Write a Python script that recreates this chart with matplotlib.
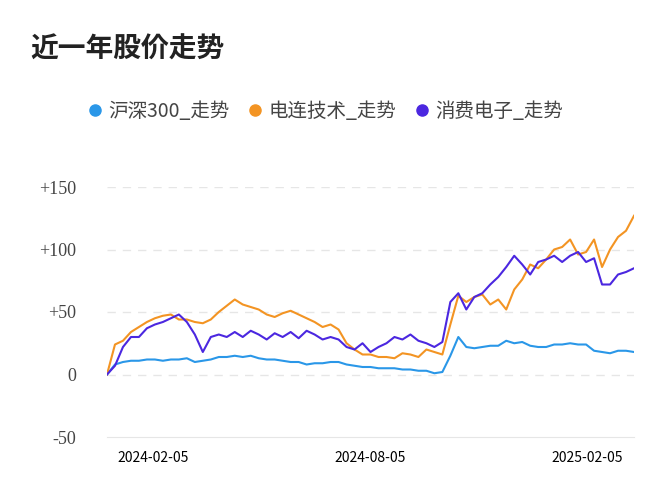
import matplotlib

matplotlib.use("Agg")
import matplotlib.pyplot as plt

plt.rcParams["font.family"] = "sans-serif"
plt.rcParams["font.sans-serif"] = ["Noto Sans CJK SC", "Noto Sans CJK JP", "Noto Sans CJK TC",
                                   "Noto Sans CJK KR", "DejaVu Sans"]
plt.rcParams["axes.unicode_minus"] = False

hs300 = [0, 8, 10, 11, 11, 12, 12, 11, 12, 12, 13, 10, 11, 12, 14, 14, 15, 14, 15, 13,
         12, 12, 11, 10, 10, 8, 9, 9, 10, 10, 8, 7, 6, 6, 5, 5, 5, 4, 4, 3,
         3, 1, 2, 15, 30, 22, 21, 22, 23, 23, 27, 25, 26, 23, 22, 22, 24, 24, 25, 24,
         24, 19, 18, 17, 19, 19, 18]
dianlian = [0, 24, 27, 34, 38, 42, 45, 47, 48, 44, 44, 42, 41, 44, 50, 55, 60, 56, 54, 52,
            48, 46, 49, 51, 48, 45, 42, 38, 40, 36, 25, 20, 16, 16, 14, 14, 13, 17, 16, 14,
            20, 18, 16, 40, 63, 58, 62, 64, 56, 60, 52, 68, 76, 88, 85, 92, 100, 102, 108, 96,
            98, 108, 86, 100, 110, 115, 127]
xiaofei = [0, 7, 22, 30, 30, 37, 40, 42, 45, 48, 42, 32, 18, 30, 32, 30, 34, 30, 35, 32,
           28, 33, 30, 34, 29, 35, 32, 28, 30, 28, 22, 20, 25, 18, 22, 25, 30, 28, 32, 27,
           25, 22, 26, 58, 65, 52, 62, 65, 72, 78, 86, 95, 88, 80, 90, 92, 95, 90, 95, 98,
           90, 93, 72, 72, 80, 82, 85]
date_labels = ["2024-02-05", "2024-08-05", "2025-02-05"]
date_pos = [5.75, 33, 60.1]
yticks = [-50, 0, 50, 100, 150]
ytick_labels = ["-50", "0", "+50", "+100", "+150"]

series = [("沪深300_走势", hs300, "#2a97e8"),
          ("电连技术_走势", dianlian, "#f39423"),
          ("消费电子_走势", xiaofei, "#4b27e0")]

fig = plt.figure(figsize=(6.72, 5), dpi=100)
ax = fig.add_axes([107 / 672, 63 / 500, 527 / 672, 250 / 500])
x = list(range(len(hs300)))
for name, vals, color in series:
    ax.plot(x, vals, color=color, lw=1.5, label=name)

ax.set_xlim(0, len(x) - 1)
ax.set_ylim(-50, 150)
ax.set_yticks(yticks)
ax.set_yticklabels(ytick_labels, fontfamily="Liberation Serif", fontsize=13, color="#444444")
ax.set_xticks(date_pos)
ax.set_xticklabels(date_labels, fontfamily="Liberation Serif", fontsize=13, color="#444444")
ax.tick_params(length=0, pad=10)
ax.tick_params(axis="y", pad=22)
for y in yticks[1:]:
    ax.axhline(y, color="#e6e6e6", lw=1, ls=(0, (6, 5)), zorder=0)
for s in ["top", "right", "left"]:
    ax.spines[s].set_visible(False)
ax.spines["bottom"].set_position(("data", -50))
ax.spines["bottom"].set_color("#e6e6e6")

fig.text(30 / 672, 1 - 50 / 500, "近一年股价走势", fontsize=20, fontweight="bold",
         va="center", color="#222222")
leg = fig.legend(loc="center", bbox_to_anchor=(0.485, 1 - 111 / 500), ncol=3, frameon=False,
                 handlelength=0.6, handletextpad=0.4, columnspacing=1.0, fontsize=14,
                 labelcolor="#444444")
for h, (_, _, c) in zip(leg.legend_handles, series):
    h.set_marker("o")
    h.set_linestyle("")
    h.set_markersize(8)
    h.set_color(c)

fig.savefig("out.png", dpi=100)
